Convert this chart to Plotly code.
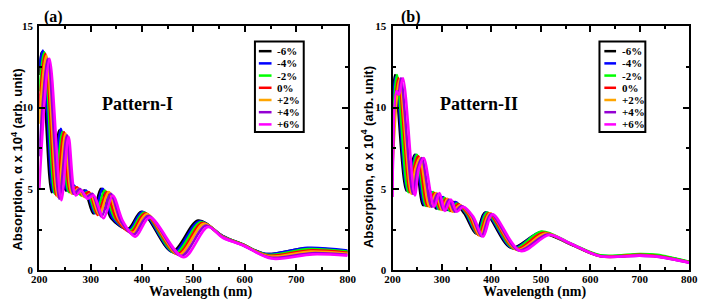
import plotly.graph_objects as go

W, H = 709, 308

series_labels = ["-6%", "-4%", "-2%", "0%", "+2%", "+4%", "+6%"]
series_colors = ["#000000", "#0000ff", "#00ff00", "#ff0000", "#ffa500", "#9400d3", "#ff00ff"]

x_ticks = [200, 300, 400, 500, 600, 700, 800]
y_ticks = [0, 5, 10, 15]

# ---------------- Pattern-I (panel a) ----------------
p1_wavelength = [
    [200, 205, 224, 239, 252, 264, 276, 288, 305, 320, 340, 373, 399, 459, 509, 557, 595, 640, 720, 800],
    [200, 207, 227, 242, 255, 267, 279, 291, 308, 323, 343, 375, 401, 462, 511, 557, 595, 641, 722, 800],
    [200, 210, 230, 245, 258, 270, 282, 294, 311, 327, 347, 377, 404, 465, 514, 557, 595, 643, 724, 800],
    [200, 212, 233, 248, 261, 273, 285, 297, 314, 331, 351, 379, 406, 469, 517, 557, 595, 645, 726, 800],
    [200, 214, 236, 251, 264, 276, 288, 300, 317, 335, 355, 382, 409, 472, 520, 557, 595, 647, 728, 800],
    [200, 217, 239, 254, 267, 279, 291, 303, 321, 339, 359, 384, 412, 476, 524, 557, 595, 649, 730, 800],
    [200, 220, 243, 257, 271, 282, 294, 306, 325, 343, 363, 387, 415, 481, 528, 557, 595, 652, 732, 800],
]
p1_absorption = [
    [12.0, 13.4, 4.8, 8.6, 4.9, 5.2, 4.7, 4.9, 3.5, 5.0, 3.2, 2.55, 3.6, 1.15, 3.05, 2.1, 1.6, 1.0, 1.35, 1.15],
    [12.5, 13.5, 4.8, 8.7, 4.9, 5.2, 4.7, 4.9, 3.5, 5.0, 3.2, 2.5, 3.6, 1.1, 3.0, 2.1, 1.6, 1.0, 1.38, 1.22],
    [11.0, 13.4, 4.7, 8.5, 4.8, 5.1, 4.6, 4.8, 3.5, 4.9, 3.2, 2.45, 3.55, 1.05, 2.95, 2.08, 1.6, 0.95, 1.3, 1.15],
    [10.0, 13.3, 4.6, 8.5, 4.8, 5.1, 4.6, 4.8, 3.4, 4.8, 3.1, 2.35, 3.5, 1.0, 2.9, 2.06, 1.58, 0.9, 1.22, 1.08],
    [9.0, 13.2, 4.5, 8.4, 4.7, 5.0, 4.5, 4.7, 3.4, 4.8, 3.1, 2.3, 3.45, 0.95, 2.85, 2.05, 1.57, 0.85, 1.15, 1.02],
    [7.0, 13.0, 4.4, 8.3, 4.7, 5.0, 4.5, 4.7, 3.3, 4.7, 3.0, 2.2, 3.35, 0.88, 2.75, 2.03, 1.55, 0.78, 1.05, 0.95],
    [5.0, 13.0, 4.3, 8.2, 4.6, 4.9, 4.4, 4.6, 3.2, 4.6, 3.0, 2.07, 3.25, 0.8, 2.66, 2.0, 1.55, 0.72, 0.98, 0.9],
]

# ---------------- Pattern-II (panel b) ----------------
p2_wavelength = [
    [200, 205, 228, 245, 262, 276, 288, 299, 310, 324, 345, 369, 387, 440, 499, 560, 620, 700, 735, 800],
    [200, 207, 230, 247, 265, 279, 291, 302, 313, 327, 348, 371, 389, 443, 500, 560, 620, 700, 735, 800],
    [200, 209, 232, 249, 268, 282, 294, 305, 316, 330, 351, 373, 391, 446, 501, 560, 620, 700, 735, 800],
    [200, 212, 235, 243, 252, 271, 285, 297, 308, 319, 333, 354, 375, 394, 449, 505, 560, 620, 700, 735, 800],
    [200, 214, 238, 246, 255, 275, 288, 300, 311, 322, 336, 357, 377, 397, 452, 509, 560, 620, 700, 735, 800],
    [200, 208, 212, 217, 241, 250, 259, 279, 291, 303, 314, 326, 339, 360, 380, 399, 455, 513, 560, 620, 700, 735, 800],
    [200, 208, 213, 221, 245, 253, 263, 284, 295, 306, 318, 330, 343, 363, 383, 402, 459, 517, 560, 620, 700, 735, 800],
]
p2_absorption = [
    [9.0, 12.0, 4.9, 7.1, 4.0, 4.8, 3.8, 4.5, 3.7, 4.2, 3.5, 2.26, 3.55, 1.38, 2.3, 1.6, 0.88, 0.95, 0.9, 0.5],
    [10.0, 11.9, 4.9, 7.1, 4.0, 4.8, 3.8, 4.5, 3.7, 4.2, 3.5, 2.25, 3.55, 1.35, 2.35, 1.62, 0.9, 0.95, 0.9, 0.5],
    [8.0, 12.0, 4.8, 7.1, 3.95, 4.8, 3.75, 4.45, 3.65, 4.1, 3.45, 2.2, 3.55, 1.33, 2.38, 1.65, 0.92, 1.0, 0.95, 0.52],
    [7.5, 11.8, 4.8, 6.2, 7.0, 3.95, 4.75, 3.75, 4.4, 3.65, 4.05, 3.4, 2.15, 3.5, 1.3, 2.3, 1.62, 0.88, 0.95, 0.88, 0.5],
    [6.5, 11.7, 4.7, 6.2, 6.9, 3.9, 4.75, 3.7, 4.4, 3.6, 4.0, 3.4, 2.12, 3.5, 1.25, 2.25, 1.62, 0.86, 0.92, 0.85, 0.48],
    [5.5, 11.0, 10.8, 11.8, 4.7, 6.2, 6.9, 3.9, 4.7, 3.7, 4.35, 3.6, 3.95, 3.35, 2.1, 3.45, 1.22, 2.2, 1.63, 0.86, 0.9, 0.84, 0.47],
    [4.5, 11.0, 10.8, 11.8, 4.6, 6.2, 6.9, 3.9, 4.75, 3.65, 4.35, 3.6, 3.9, 3.3, 2.06, 3.44, 1.18, 2.17, 1.65, 0.86, 0.9, 0.84, 0.47],
]

SERIF = "Liberation Serif, Times New Roman, serif"
SANS = "Liberation Sans, Arial, sans-serif"

fig = go.Figure()

for k in range(7):
    fig.add_trace(go.Scatter(
        x=p1_wavelength[k], y=p1_absorption[k], mode="lines", name=series_labels[k],
        line=dict(color=series_colors[k], width=2.6, shape="spline", smoothing=0.9),
        xaxis="x", yaxis="y", showlegend=False, hoverinfo="skip"))
for k in range(7):
    fig.add_trace(go.Scatter(
        x=p2_wavelength[k], y=p2_absorption[k], mode="lines", name=series_labels[k],
        line=dict(color=series_colors[k], width=2.6, shape="spline", smoothing=0.9),
        xaxis="x2", yaxis="y2", showlegend=False, hoverinfo="skip"))


def px(x):
    return x / W


def py(y):
    return 1 - y / H


tickfont = dict(family=SERIF, size=11, color="black", weight="bold")


def xax(domain, anchor):
    return dict(domain=domain, anchor=anchor, range=[200, 800], tickvals=x_ticks,
                ticks="inside", ticklen=6, tickwidth=1.5, tickcolor="black",
                minor=dict(dtick=50, tick0=200, ticks="inside", ticklen=3, tickwidth=1.5, tickcolor="black"),
                mirror="allticks", showline=True, linewidth=2, linecolor="black",
                showgrid=False, zeroline=False, tickfont=tickfont, ticklabelstandoff=-2)


def yax(domain, anchor):
    return dict(domain=domain, anchor=anchor, range=[0, 15], tickvals=y_ticks,
                ticks="inside", ticklen=6, tickwidth=1.5, tickcolor="black",
                minor=dict(dtick=2.5, tick0=0, ticks="inside", ticklen=3, tickwidth=1.5, tickcolor="black"),
                mirror="allticks", showline=True, linewidth=2, linecolor="black",
                showgrid=False, zeroline=False, tickfont=tickfont, ticklabelstandoff=2)


ydom = [py(275), py(21)]
fig.update_layout(
    width=W, height=H, margin=dict(l=0, r=0, t=0, b=0),
    paper_bgcolor="white", plot_bgcolor="white",
    xaxis=xax([px(32), px(348)], "y"),
    yaxis=yax(ydom, "x"),
    xaxis2=xax([px(394), px(698)], "y2"),
    yaxis2=yax(ydom, "x2"),
    showlegend=False,
)

ann = []
shapes = []


def text_at(text, x, y, font, **kw):
    d = dict(text=text, x=px(x), y=py(y), xref="paper", yref="paper", showarrow=False,
             xanchor="center", yanchor="middle", font=font)
    d.update(kw)
    ann.append(d)


# panel letters, pattern names, axis titles
text_at("<b>(a)</b>", 47, 11, dict(family=SERIF, size=16, color="black"))
text_at("<b>(b)</b>", 413, 11, dict(family=SERIF, size=16, color="black"))
text_at("<b>Pattern-I</b>", 133, 102, dict(family=SERIF, size=18, color="black"))
text_at("<b>Pattern-II</b>", 483, 102, dict(family=SERIF, size=18, color="black"))
for cx in (197, 539):
    text_at("<b>Wavelength (nm)</b>", cx, 298, dict(family=SERIF, size=14, color="black"))
for cx, cy in ((9, 160), (368, 157)):
    text_at("<b>Absorption, α x 10<sup>4</sup> (arb. unit)</b>", cx, cy,
            dict(family=SANS, size=13, color="black"), textangle=-90)

# custom legends
for (bx0, bx1, lx0, lx1, tx) in ((253, 303, 257, 270, 275), (606, 653, 611, 623, 628)):
    shapes.append(dict(type="rect", xref="paper", yref="paper", x0=px(bx0), x1=px(bx1),
                       y0=py(131), y1=py(37), line=dict(color="black", width=2), fillcolor="white"))
    for k in range(7):
        yy = 47 + 12.7 * k
        shapes.append(dict(type="line", xref="paper", yref="paper", x0=px(lx0), x1=px(lx1),
                           y0=py(yy), y1=py(yy), line=dict(color=series_colors[k], width=2.5)))
        text_at("<b>" + series_labels[k] + "</b>", tx, yy, dict(family=SERIF, size=11, color="black"),
                xanchor="left", borderpad=0)

fig.update_layout(annotations=ann, shapes=shapes)
fig.write_html("out.html", config={"displayModeBar": False},
               post_script="document.body.style.margin='0';document.body.style.overflow='hidden';")
